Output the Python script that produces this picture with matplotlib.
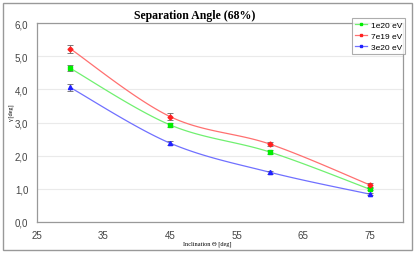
import numpy as np
import matplotlib
matplotlib.use("Agg")
import matplotlib.pyplot as plt
from matplotlib.patches import Rectangle
from matplotlib.ticker import FuncFormatter

inclination = [30, 45, 60, 75]
series_names = ["1e20 eV", "7e19 eV", "3e20 eV"]
gamma_1e20 = [4.64, 2.93, 2.11, 0.99]
gamma_7e19 = [5.23, 3.18, 2.35, 1.12]
gamma_3e20 = [4.06, 2.38, 1.50, 0.84]
err_1e20 = [0.10, 0.06, 0.05, 0.04]
err_7e19 = [0.12, 0.10, 0.06, 0.05]
err_3e20 = [0.11, 0.05, 0.04, 0.03]

colors = ["#00ee00", "#ff2020", "#2020ff"]
linecolors = ["#70f070", "#ff7070", "#7070ff"]
markers = ["s", "D", "^"]
msizes = [3.0, 2.5, 3.0]


def smooth(x, y, n=30):
    # Bezier smoothing (Catmull-Rom style) for drawing the connecting curve
    x = np.asarray(x, float); y = np.asarray(y, float)
    px, py = [], []
    for i in range(len(x) - 1):
        x0, y0 = (x[i - 1], y[i - 1]) if i > 0 else (x[i], y[i])
        x3, y3 = (x[i + 2], y[i + 2]) if i + 2 < len(x) else (x[i + 1], y[i + 1])
        c1 = (x[i] + (x[i + 1] - x0) / 6, y[i] + (y[i + 1] - y0) / 6)
        c2 = (x[i + 1] - (x3 - x[i]) / 6, y[i + 1] - (y3 - y[i]) / 6)
        t = np.linspace(0, 1, n)
        bx = (1 - t) ** 3 * x[i] + 3 * (1 - t) ** 2 * t * c1[0] + 3 * (1 - t) * t ** 2 * c2[0] + t ** 3 * x[i + 1]
        by = (1 - t) ** 3 * y[i] + 3 * (1 - t) ** 2 * t * c1[1] + 3 * (1 - t) * t ** 2 * c2[1] + t ** 3 * y[i + 1]
        px.extend(bx); py.extend(by)
    return np.array(px), np.array(py)


W, H = 415, 255
fig = plt.figure(figsize=(W / 100, H / 100), dpi=100)
fig.patches.append(Rectangle((3 / W, 4 / H), 409 / W, 247 / H, transform=fig.transFigure,
                             fill=False, edgecolor="#999999", linewidth=1.0))

ax = fig.add_axes([36.7 / W, (H - 223) / H, (403 - 36.7) / W, (223 - 24) / H])
ax.set_xlim(25, 80)
ax.set_ylim(0, 6)
ax.set_xticks([25, 35, 45, 55, 65, 75])
ax.set_yticks(np.arange(0, 7, 1))
ax.yaxis.set_major_formatter(FuncFormatter(lambda v, p: f"{v:.1f}".replace(".", ",")))
ax.grid(axis="y", color="#eaeaea", linewidth=0.8)
ax.set_axisbelow(True)
for s in ax.spines.values():
    s.set_color("#999999")
    s.set_linewidth(0.9)
ax.tick_params(length=0, labelsize=7, colors="#444444", pad=6,
               labelfontfamily="Liberation Sans")

data = [gamma_1e20, gamma_7e19, gamma_3e20]
errs = [err_1e20, err_7e19, err_3e20]
handles = []
for name, yv, ev, c, lc, m, ms in zip(series_names, data, errs, colors, linecolors, markers, msizes):
    sx, sy = smooth(inclination, yv)
    ax.plot(sx, sy, color=lc, linewidth=0.9, zorder=2)
    ax.errorbar(inclination, yv, yerr=ev, fmt="none", ecolor="#666666", elinewidth=0.6,
                capsize=2, capthick=0.6, zorder=3)
    ax.plot(inclination, yv, linestyle="none", marker=m, color=c, markersize=ms, zorder=4)
    h, = ax.plot([], [], color=lc, linewidth=0.9, marker="s", markersize=2.0,
                 markerfacecolor=c, markeredgecolor=c, label=name)
    handles.append(h)

leg = fig.legend(handles=handles, loc="upper left", bbox_to_anchor=(352 / W, 1 - 19 / H),
                 frameon=True, fancybox=False, prop={"family": "Liberation Sans", "size": 6},
                 handlelength=1.5, handletextpad=0.4, borderpad=0.35, labelspacing=0.4,
                 borderaxespad=0)
leg.get_frame().set_edgecolor("#999999")
leg.get_frame().set_linewidth(0.8)

fig.text(0.47, 1 - 15.5 / H, "Separation Angle (68%)", ha="center", va="center",
         fontsize=8.5, fontweight="bold", family="Liberation Serif")
fig.text(0.5, 1 - 244.5 / H, "Inclination Θ [deg]", ha="center", va="center",
         fontsize=4.5, family="Liberation Serif")
fig.text(11 / W, 1 - 113 / H, "γ [deg]", ha="center", va="center", rotation=90,
         fontsize=4.5, family="Liberation Serif")

fig.savefig("out.png", dpi=100)
